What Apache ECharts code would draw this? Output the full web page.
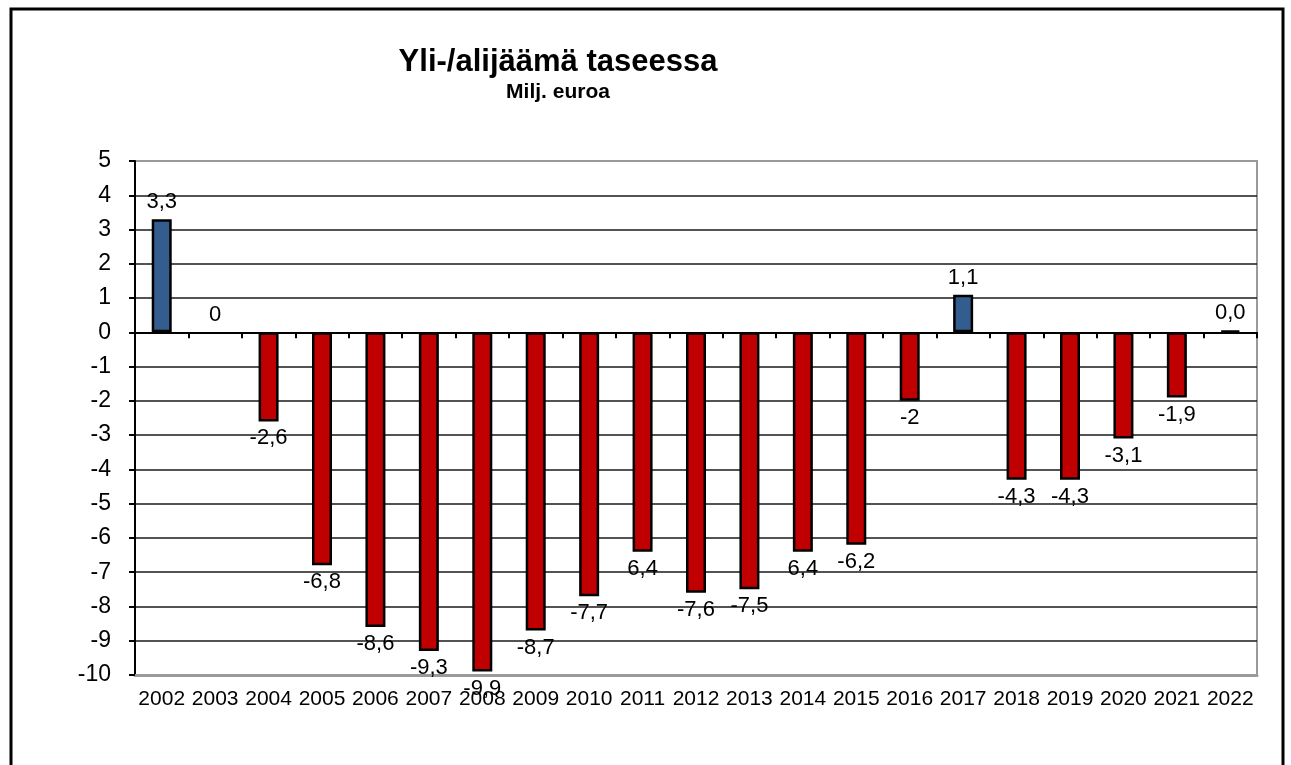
<!DOCTYPE html>
<html>
<head>
<meta charset="utf-8">
<script src="https://cdn.jsdelivr.net/npm/echarts@6/dist/echarts.min.js"></script>
<style>
html, body { margin: 0; padding: 0; background: #fff; }
#chart1 { width: 1291px; height: 765px; }
</style>
</head>
<body>
<div id="chart1"></div>
<script>
// data
var years = ['2002','2003','2004','2005','2006','2007','2008','2009','2010','2011','2012',
  '2013','2014','2015','2016','2017','2018','2019','2020','2021','2022'];
var values = [3.3, 0, -2.6, -6.8, -8.6, -9.3, -9.9, -8.7, -7.7, -6.4, -7.6,
  -7.5, -6.4, -6.2, -2, 1.1, -4.3, -4.3, -3.1, -1.9, 0.05];
var labels = ['3,3','0','-2,6','-6,8','-8,6','-9,3','-9,9','-8,7','-7,7','6,4','-7,6',
  '-7,5','6,4','-6,2','-2','1,1','-4,3','-4,3','-3,1','-1,9','0,0'];
var yTicks = [-10,-9,-8,-7,-6,-5,-4,-3,-2,-1,0,1,2,3,4,5];

var font = '"Liberation Sans", Arial, sans-serif';

// split lines: top one gray (plot border), rest dark
var splitColors = yTicks.map(function (t, i) { return i === yTicks.length - 1 ? '#9a9a9a' : '#1a1a1a'; });

var barData = values.map(function (v, i) {
  return {
    value: v,
    itemStyle: { color: v >= 0 ? '#335c8f' : '#c00000', borderWidth: v === 0 ? 0 : 2.5 },
    label: { position: v >= 0 ? 'top' : 'bottom' }
  };
});

chart1 = {
  animation: false,
  title: {
    text: 'Yli-/alijäämä taseessa',
    subtext: 'Milj. euroa',
    left: 553,
    textAlign: 'center',
    top: 42,
    itemGap: 4,
    textStyle: { fontFamily: font, fontSize: 31, fontWeight: 'bold', color: '#000' },
    subtextStyle: { fontFamily: font, fontSize: 21, fontWeight: 'bold', color: '#000' }
  },
  graphic: [
    {
      type: 'rect',
      shape: { x: 11, y: 9, width: 1272, height: 800 },
      style: { fill: 'none', stroke: '#000', lineWidth: 3 },
      silent: true
    }
  ],
  grid: {
    left: 135,
    right: 34,
    top: 161,
    bottom: 90,
    show: true,
    borderColor: '#9a9a9a',
    borderWidth: 2
  },
  xAxis: [
    {
      type: 'category',
      data: years,
      position: 'bottom',
      axisLine: { onZero: false, show: true, lineStyle: { color: '#9a9a9a', width: 3 } },
      axisTick: { show: false },
      axisLabel: { fontFamily: font, fontSize: 21, color: '#000', margin: 14, interval: 0 }
    },
    {
      type: 'category',
      data: years,
      position: 'bottom',
      axisLine: { onZero: true, lineStyle: { color: '#000', width: 2 } },
      axisTick: { show: true, length: 6, lineStyle: { color: '#000', width: 2 } },
      axisLabel: { show: false }
    }
  ],
  yAxis: {
    type: 'value',
    min: -10,
    max: 5,
    interval: 1,
    axisLine: { show: true, lineStyle: { color: '#000', width: 2 } },
    axisTick: { show: true, length: 6, lineStyle: { color: '#000', width: 2 } },
    axisLabel: { fontFamily: font, fontSize: 23, color: '#000', margin: 24 },
    splitLine: { show: true, lineStyle: { color: splitColors, width: 1.5 } }
  },
  series: [
    {
      type: 'bar',
      xAxisIndex: 0,
      barWidth: 20,
      data: barData,
      itemStyle: { borderColor: '#000', borderWidth: 2.5 },
      label: {
        show: true,
        distance: 6,
        fontFamily: font,
        fontSize: 22,
        color: '#000',
        formatter: function (p) { return labels[p.dataIndex]; }
      }
    }
  ]
};
echarts.init(document.getElementById('chart1')).setOption(chart1);
</script>
</body>
</html>
